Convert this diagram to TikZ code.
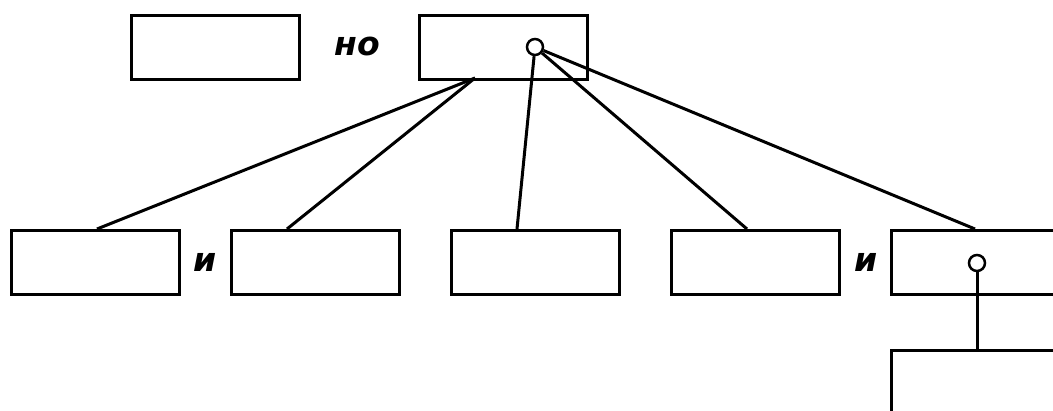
\documentclass[tikz,border=0pt]{standalone}
\usepackage{fontspec}
\setmainfont{DejaVu Sans}
\begin{document}
\begin{tikzpicture}[x=1pt,y=-1pt,line width=3pt,
  box/.style={draw,line width=3pt,minimum width=168pt,minimum height=64pt,inner sep=0pt,anchor=north west},
  conj/.style={font=\fontsize{33}{33}\selectfont\bfseries\itshape,inner sep=0pt},
  dot/.style={circle,draw,fill=white,line width=2.5pt,minimum size=16pt,inner sep=0pt}]
\useasboundingbox (0,0) rectangle (1053,410);
\clip (0,0) rectangle (1053,410);
\node[box] (t1) at (130,14) {};
\node[box] (t2) at (418,14) {};
\node[conj] (no) at (357,46) {но};
\node[box] (b1) at (10,229) {};
\node[box] (b2) at (230,229) {};
\node[box] (b3) at (450,229) {};
\node[box] (b4) at (670,229) {};
\node[box,minimum width=190pt] (b5) at (890,229) {};
\node[box,minimum width=190pt,minimum height=80pt] (c1) at (890,349) {};
\node[conj] (i1) at (205,262) {и};
\node[conj] (i2) at (866,262) {и};
\coordinate (s) at (475,78);
\coordinate (e1) at (97,229);
\coordinate (e2) at (287,229);
\coordinate (e3) at (517,229);
\coordinate (e4) at (747,229);
\coordinate (e5) at (975,229);
\coordinate (e6) at (977,349);
\node[dot] (d1) at (535,47) {};
\node[dot] (d2) at (977,263) {};
\draw (s) -- (e1);
\draw (s) -- (e2);
\draw (d1) -- (e3);
\draw (d1) -- (e4);
\draw (d1) -- (e5);
\draw (d2) -- (e6);
\end{tikzpicture}
\end{document}
